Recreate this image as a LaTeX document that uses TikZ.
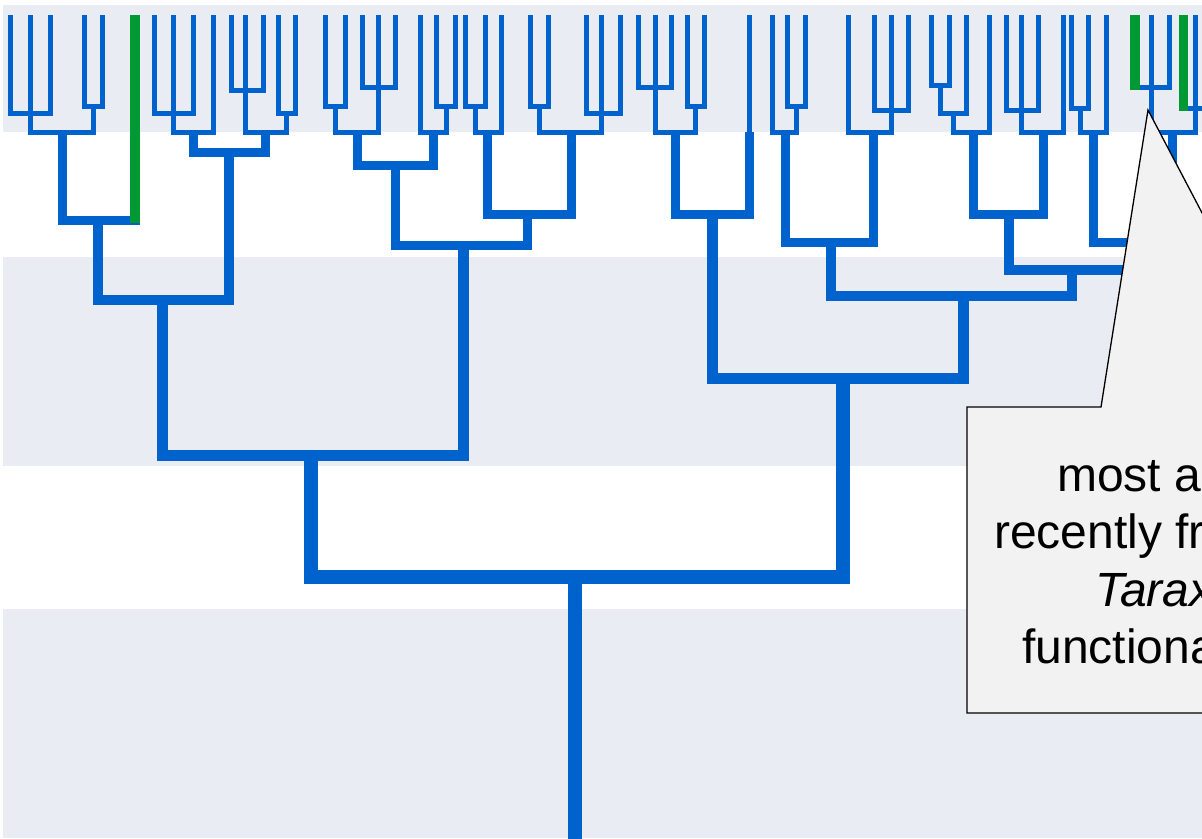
\documentclass[tikz,border=0pt]{standalone}
\usepackage{fontspec}
\setmainfont{Liberation Sans}
\usetikzlibrary{calc}

\definecolor{treeblue}{RGB}{0,98,204}
\definecolor{treegreen}{RGB}{0,153,51}
\definecolor{bandgray}{RGB}{234,236,244}
\definecolor{notegray}{RGB}{242,242,242}

\tikzset{
    twig/.style={treeblue, line width=5pt},
    branch/.style={treeblue, line width=9pt},
    bough/.style={treeblue, line width=10pt},
    limb/.style={treeblue, line width=11pt},
    trunk/.style={treeblue, line width=14pt},
    greentip/.style={treegreen, line width=9.5pt},
    calltext/.style={anchor=base west, inner sep=0pt, font=\fontsize{48}{57}\selectfont},
}

% join the children of a clade to its node
\newcommand{\joinclade}[3]{%
    \foreach \kid in {#3}
        \draw[#1] (\kid) |- (#2);}

\begin{document}
\begin{tikzpicture}[x=1pt, y=-1pt]
        \useasboundingbox (0,0) rectangle (1202,838);
        \clip (0,0) rectangle (1202,838);

        % Draw background bands.
        \fill[white] (0,0) rectangle (1202,838);
        \foreach \ya/\yb in {5/132, 257/466, 609/838}
            \fill[bandgray] (3,\ya) rectangle (1202,\yb);

        % Place leaves.
        \foreach \leaf/\x in {l1/10.7, l2/30.7, l3/50, l4/84, l5/102.7, g1/135,
                l6/154, l7/173, l8/193, l9/213, l10/231, l11/245, l12/263, l13/278, l14/295,
                l15/325.7, l16/345, l17/362.3, l18/378.3, l19/395.7, l20/420.7, l21/436.7,
                l22/455, l23/465.7, l24/485, l25/501.7, l26/530, l27/548.3, l28/586,
                l29/601.7, l30/620, l31/638.3, l32/655, l33/671.7, l34/687.3, l35/704,
                l36/749.3, l37/772.7, l38/787.3, l39/805, l40/848.3, l41/874, l42/891.7,
                l43/908.3, l44/931.7, l45/949.3, l46/966.7, l47/989.3, l48/1006,
                l49/1021.7, l50/1038.3, l51/1063.3, l52/1071.7, l53/1088.3, l54/1106.7,
                g2/1135, l55/1151.7, l56/1169.3, g3/1183.3, l57/1195, l58/1210}
            \coordinate (\leaf) at (\x,15);

        % Place inner nodes.
        \coordinate (n1) at (30.7,113);
        \coordinate (n2) at (93.3,106);
        \coordinate (n3) at (62,132);
        \coordinate (n4) at (98,220);
        \coordinate (n5) at (173,113);
        \coordinate (n6) at (193,132);
        \coordinate (n7) at (245,90);
        \coordinate (n8) at (286.5,113);
        \coordinate (n9) at (265.7,132);
        \coordinate (n10) at (229,152);
        \coordinate (n11) at (162,300);
        \coordinate (n12) at (335.3,106);
        \coordinate (n13) at (378.3,87);
        \coordinate (n14) at (357,132);
        \coordinate (n15) at (446,106);
        \coordinate (n16) at (433,132);
        \coordinate (n17) at (395,165);
        \coordinate (n18) at (475.3,106);
        \coordinate (n19) at (487,132);
        \coordinate (n20) at (539,106);
        \coordinate (n21) at (601.7,113);
        \coordinate (n22) at (571.7,132);
        \coordinate (n23) at (527,214);
        \coordinate (n24) at (463,245);
        \coordinate (n25) at (311,455);
        \coordinate (n26) at (655,87);
        \coordinate (n27) at (695.7,106);
        \coordinate (n28) at (675,132);
        \coordinate (u36) at (749.3,132);
        \coordinate (n29) at (712,214);
        \coordinate (n30) at (796,106);
        \coordinate (n31) at (785,132);
        \coordinate (n32) at (891.7,110);
        \coordinate (n33) at (873,132);
        \coordinate (n34) at (830.7,242);
        \coordinate (n35) at (940.5,85);
        \coordinate (n36) at (953.5,113);
        \coordinate (n37) at (973,132);
        \coordinate (n38) at (1021.7,110);
        \coordinate (n39) at (1043,132);
        \coordinate (n40) at (1009,214);
        \coordinate (n41) at (1080,108);
        \coordinate (n42) at (1093,132);
        \coordinate (n43) at (1151.7,87);
        \coordinate (n44) at (1195,108);
        \coordinate (n45) at (1172,132);
        \coordinate (n46) at (1136,242);
        \coordinate (n47) at (1072,270);
        \coordinate (n48) at (963,296);
        \coordinate (n49) at (843,378);
        \coordinate (root) at (575,577);
        \coordinate (base) at (575,840);

        % Draw small clades.
        \joinclade{twig}{n1}{l1,l2,l3}
        \joinclade{twig}{n2}{l4,l5}
        \joinclade{twig}{n3}{n1,n2}
        \joinclade{twig}{n5}{l6,l7,l8}
        \joinclade{twig}{n6}{n5,l9}
        \joinclade{twig}{n7}{l10,l11,l12}
        \joinclade{twig}{n8}{l13,l14}
        \joinclade{twig}{n9}{n7,n8}
        \joinclade{twig}{n12}{l15,l16}
        \joinclade{twig}{n13}{l17,l18,l19}
        \joinclade{twig}{n14}{n12,n13}
        \joinclade{twig}{n15}{l21,l22}
        \joinclade{twig}{n16}{l20,n15}
        \joinclade{twig}{n18}{l23,l24}
        \joinclade{twig}{n19}{n18,l25}
        \joinclade{twig}{n20}{l26,l27}
        \joinclade{twig}{n21}{l28,l29,l30}
        \joinclade{twig}{n22}{n20,n21}
        \joinclade{twig}{n26}{l31,l32,l33}
        \joinclade{twig}{n27}{l34,l35}
        \joinclade{twig}{n28}{n26,n27}
        \draw[twig] (l36) -- (u36);
        \joinclade{twig}{n30}{l38,l39}
        \joinclade{twig}{n31}{l37,n30}
        \joinclade{twig}{n32}{l41,l42,l43}
        \joinclade{twig}{n33}{l40,n32}
        \joinclade{twig}{n35}{l44,l45}
        \joinclade{twig}{n36}{n35,l46}
        \joinclade{twig}{n37}{n36,l47}
        \joinclade{twig}{n38}{l48,l49,l50}
        \joinclade{twig}{n39}{n38,l51}
        \joinclade{twig}{n41}{l52,l53}
        \joinclade{twig}{n42}{n41,l54}
        \joinclade{twig}{n43}{g2,l55,l56}
        \joinclade{twig}{n44}{g3,l57,l58}
        \joinclade{twig}{n45}{n43,n44}

        % Draw big clades.
        \joinclade{branch}{n4}{n3,g1}
        \joinclade{branch}{n10}{n6,n9}
        \joinclade{branch}{n17}{n14,n16}
        \joinclade{branch}{n23}{n19,n22}
        \joinclade{branch}{n24}{n17,n23}
        \joinclade{branch}{n29}{n28,u36}
        \joinclade{branch}{n34}{n31,n33}
        \joinclade{branch}{n40}{n37,n39}
        \joinclade{branch}{n46}{n42,n45}
        \joinclade{bough}{n11}{n4,n10}
        \joinclade{bough}{n47}{n40,n46}
        \joinclade{bough}{n48}{n34,n47}
        \joinclade{limb}{n25}{n11,n24}
        \joinclade{limb}{n49}{n29,n48}
        \joinclade{trunk}{root}{n25,n49}
        \draw[trunk] (root) -- (base);

        % Draw green tips.
        \foreach \g/\p in {g1/n4, g2/n43, g3/n44}
            \draw[greentip] (\g) -- ($(\g |- \p)+(0,3)$);

        % Draw callout.
        \coordinate (tip) at (1148,110);
        \filldraw[fill=notegray, draw=black, line width=1.3pt]
            (967,407) -- (1101,407) -- (tip) -- (1304,407) -- (1400,407)
            -- (1400,713) -- (967,713) -- cycle;
        \node[calltext] (line1) at (1057,491.7) {most a};
        \node[calltext] (line2) at (994,548) {recently fr};
        \node[calltext] (line3) at (1095,606.7) {\itshape Tarax};
        \node[calltext] (line4) at (1022,663) {functiona};
    \end{tikzpicture}
\end{document}
